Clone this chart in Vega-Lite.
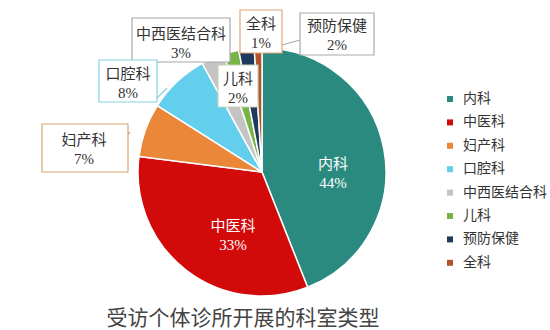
{
  "$schema": "https://vega.github.io/schema/vega-lite/v6.json",
  "width": 524,
  "height": 316,
  "autosize": {"type": "none"},
  "padding": {"left": 0, "top": 14, "right": 26, "bottom": 0},
  "background": "white",
  "config": {"view": {"stroke": null}, "font": "Liberation Serif, Noto Sans CJK SC"},
  "title": {
    "text": "受访个体诊所开展的科室类型",
    "orient": "bottom",
    "offset": -22,
    "anchor": "middle",
    "dx": -19,
    "font": "Noto Sans CJK SC",
    "fontSize": 21,
    "fontWeight": "normal",
    "color": "#444444"
  },
  "datasets": {
    "main": [
      {"科室": "内科", "占比": 44, "序": 1},
      {"科室": "中医科", "占比": 33, "序": 2},
      {"科室": "妇产科", "占比": 7, "序": 3},
      {"科室": "口腔科", "占比": 8, "序": 4},
      {"科室": "中西医结合科", "占比": 3, "序": 5},
      {"科室": "儿科", "占比": 2, "序": 6},
      {"科室": "预防保健", "占比": 2, "序": 7},
      {"科室": "全科", "占比": 1, "序": 8}
    ],
    "labels": [
      {"科室": "中西医结合科", "占比": 3, "x1": 132, "x2": 230, "y1": 18, "y2": 62, "tx": 181, "ty": 43.5, "框": true},
      {"科室": "口腔科", "占比": 8, "x1": 99, "x2": 157, "y1": 60, "y2": 102, "tx": 128, "ty": 83.5, "框": true},
      {"科室": "妇产科", "占比": 7, "x1": 42, "x2": 128, "y1": 124, "y2": 172, "tx": 84, "ty": 149, "框": true},
      {"科室": "儿科", "占比": 2, "x1": 218, "x2": 258, "y1": 65, "y2": 107, "tx": 238, "ty": 88.5, "框": true},
      {"科室": "全科", "占比": 1, "x1": 240, "x2": 282, "y1": 10, "y2": 53, "tx": 261, "ty": 33.5, "框": true},
      {"科室": "预防保健", "占比": 2, "x1": 300, "x2": 374, "y1": 13, "y2": 55, "tx": 337, "ty": 35.5, "框": true},
      {"科室": "内科", "占比": 44, "tx": 333, "ty": 173.5, "框": false},
      {"科室": "中医科", "占比": 33, "tx": 233, "ty": 235, "框": false}
    ],
    "tails": [
      {"科室": "口腔科", "x1": 157, "y1": 98, "x2": 167, "y2": 88},
      {"科室": "妇产科", "x1": 122, "y1": 141, "x2": 130, "y2": 132},
      {"科室": "中西医结合科", "x1": 210, "y1": 62, "x2": 226, "y2": 58},
      {"科室": "预防保健", "x1": 300, "y1": 40, "x2": 282, "y2": 45}
    ]
  },
  "layer": [
    {
      "data": {"name": "main"},
      "mark": {"type": "arc", "outerRadius": 124, "stroke": "white", "strokeWidth": 1.5},
      "encoding": {
        "theta": {"field": "占比", "type": "quantitative", "stack": true},
        "order": {"field": "序", "type": "quantitative"},
        "color": {
          "field": "科室",
          "type": "nominal",
          "scale": {
            "domain": ["内科", "中医科", "妇产科", "口腔科", "中西医结合科", "儿科", "预防保健", "全科"],
            "range": ["#2B8A7F", "#D20A0A", "#EB8738", "#64CFEC", "#C4C4C4", "#76B446", "#1F3A5F", "#B2552A"]
          },
          "legend": {
            "orient": "none",
            "legendX": 443,
            "legendY": 78,
            "title": null,
            "symbolType": "square",
            "symbolSize": 36,
            "symbolStrokeWidth": 0,
            "labelFontSize": 14,
            "labelColor": "#333333",
            "labelFont": "Noto Sans CJK SC",
            "rowPadding": 9.4,
            "labelOffset": 6
          }
        }
      }
    },
    {
      "data": {"name": "tails"},
      "mark": {"type": "rule", "strokeWidth": 1.2},
      "encoding": {
        "x": {"field": "x1", "type": "quantitative", "scale": {"domain": [0, 524], "range": [0, 524]}, "axis": null},
        "x2": {"field": "x2"},
        "y": {"field": "y1", "type": "quantitative", "scale": {"domain": [14, 330], "range": [0, 316]}, "axis": null},
        "y2": {"field": "y2"},
        "stroke": {"field": "科室", "type": "nominal", "legend": null}
      }
    },
    {
      "data": {"name": "labels"},
      "transform": [{"filter": "datum['框']"}],
      "mark": {"type": "rect", "fill": "white", "strokeWidth": 1.2},
      "encoding": {
        "x": {"field": "x1", "type": "quantitative", "scale": {"domain": [0, 524], "range": [0, 524]}, "axis": null},
        "x2": {"field": "x2"},
        "y": {"field": "y1", "type": "quantitative", "scale": {"domain": [14, 330], "range": [0, 316]}, "axis": null},
        "y2": {"field": "y2"},
        "stroke": {
          "field": "科室",
          "type": "nominal",
          "scale": {
            "domain": ["中西医结合科", "口腔科", "妇产科", "儿科", "全科", "预防保健"],
            "range": ["#A8A8A8", "#86D3E3", "#D9A474", "#C9D2B8", "#E3A77A", "#A9A9A9"]
          },
          "legend": null
        }
      }
    },
    {
      "data": {"name": "labels"},
      "transform": [{"calculate": "datum['科室'] + '\\n' + datum['占比'] + '%'", "as": "文"}],
      "mark": {"type": "text", "fontSize": 15, "lineBreak": "\n", "lineHeight": 19, "align": "center", "baseline": "middle", "dy": -9.5},
      "encoding": {
        "x": {"field": "tx", "type": "quantitative", "scale": {"domain": [0, 524], "range": [0, 524]}, "axis": null},
        "y": {"field": "ty", "type": "quantitative", "scale": {"domain": [14, 330], "range": [0, 316]}, "axis": null},
        "text": {"field": "文", "type": "nominal"},
        "color": {"condition": {"test": "datum['框']", "value": "#333333"}, "value": "#FFFFFF"}
      }
    }
  ]
}
